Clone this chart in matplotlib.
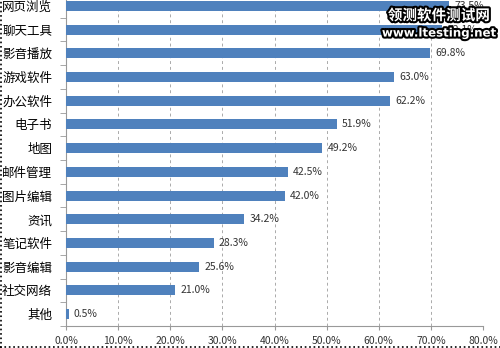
import matplotlib.pyplot as plt
import matplotlib.patheffects as pe
from matplotlib.lines import Line2D
from matplotlib.ticker import FixedLocator, PercentFormatter

plt.rcParams['font.family'] = ['Noto Sans CJK SC', 'DejaVu Sans']

categories = ['网页浏览', '聊天工具', '影音播放', '游戏软件', '办公软件', '电子书', '地图',
              '邮件管理', '图片编辑', '资讯', '笔记软件', '影音编辑', '社交网络', '其他']
shares = [73.5, 72.1, 69.8, 63.0, 62.2, 51.9, 49.2, 42.5, 42.0, 34.2, 28.3, 25.6, 21.0, 0.5]
x_ticks = [0, 10, 20, 30, 40, 50, 60, 70, 80]

fig = plt.figure(figsize=(5, 3.48), dpi=100)
ax = fig.add_axes([0.132, 0.0632, 0.834, 0.954])

pos = list(range(len(categories)))
ax.barh(pos, shares, height=0.42, color='#4F81BD', zorder=3)
for y, v in zip(pos, shares):
    ax.text(v + 1.0, y, f'{v:.1f}%', va='center', ha='left', fontsize=7.5,
            color='#333333', zorder=4)

ax.set_ylim(len(categories) - 0.5, -0.5)
ax.set_xlim(0, 80)
ax.set_yticks(pos)
ax.set_yticklabels(categories, fontsize=9)
ax.yaxis.set_minor_locator(FixedLocator([p + 0.5 for p in pos]))
ax.tick_params(axis='y', which='major', length=0, pad=10)
ax.tick_params(axis='y', which='minor', length=4, color='#999999')
ax.set_xticks(x_ticks)
ax.xaxis.set_major_formatter(PercentFormatter(decimals=1))
ax.tick_params(axis='x', length=3, color='#999999', labelsize=7.5,
               labelcolor='#333333', pad=4)

ax.grid(axis='x', linestyle=(0, (3, 3)), color='#aaaaaa', linewidth=0.7, zorder=0)
for side in ('top', 'right'):
    ax.spines[side].set_visible(False)
for side in ('left', 'bottom'):
    ax.spines[side].set_color('#999999')

# dotted chart-area border
fig.add_artist(Line2D([0.002, 0.002], [0, 1], transform=fig.transFigure,
                      color='black', linestyle=':', linewidth=1.2))
fig.add_artist(Line2D([0, 1], [0.003, 0.003], transform=fig.transFigure,
                      color='black', linestyle=':', linewidth=1.2))

# site mark in the top-right corner
stroke = [pe.withStroke(linewidth=3, foreground='black')]
fig.text(0.878, 0.957, '领测软件测试网', ha='center', va='center', fontsize=10.5,
         fontweight='bold', color='white', path_effects=stroke, zorder=10)
fig.text(0.878, 0.905, 'www.ltesting.net', ha='center', va='center', fontsize=8.5,
         fontweight='bold', color='white', path_effects=stroke, zorder=10,
         family='DejaVu Sans')

fig.savefig('out.png', dpi=100)
